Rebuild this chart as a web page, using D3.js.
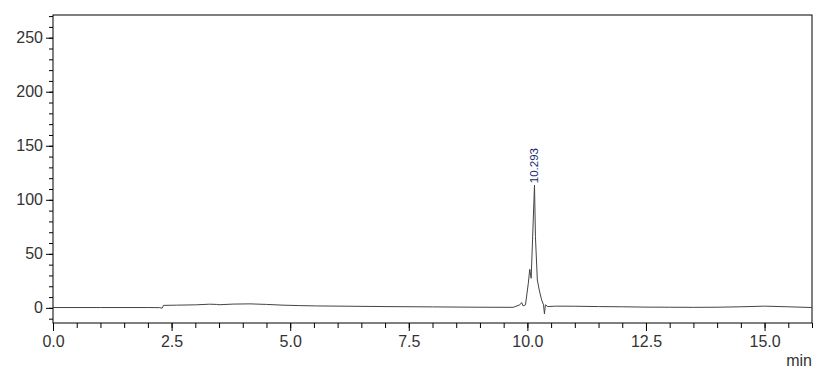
<!DOCTYPE html>
<html>
<head>
<meta charset="utf-8">
<script src="https://cdn.jsdelivr.net/npm/d3@7"></script>
<style>
	body { margin: 0; background: #fff; }
	.tick text { font-family: "Liberation Sans", Arial, sans-serif; fill: #333; }
</style>
</head>
<body>
<div id="chart"></div>
<script>
// Chromatogram trace (time in min, signal in mAU)
var times = [0.0, 1.0, 2.0, 2.25, 2.30, 2.33, 2.6, 3.0, 3.3, 3.45, 3.5, 3.8, 4.15, 4.5, 4.85, 5.2, 5.56, 6.26,
	7.0, 8.0, 9.0, 9.7, 9.84, 9.88, 9.91, 9.96, 10.02, 10.05, 10.08, 10.15, 10.17, 10.21, 10.25, 10.30,
	10.34, 10.36, 10.38, 10.43, 10.6, 11.0, 11.5, 12.0, 12.5, 13.0, 13.5, 14.0, 14.5, 15.0, 15.5, 16.0];
var signal = [0.3, 0.3, 0.3, 0.2, -0.3, 2.3, 2.5, 2.8, 3.4, 3.2, 2.9, 3.5, 3.7, 3.2, 2.5, 2.1, 1.8, 1.5,
	1.2, 0.9, 0.6, 0.5, 2.8, 4.9, 1.8, 2.8, 22.8, 35.7, 27.4, 113.5, 65.8, 25.8, 16.6, 7.4,
	2.8, -5.5, 2.8, 1.2, 1.6, 1.5, 1.2, 1.0, 0.7, 0.6, 0.5, 0.6, 1.0, 1.6, 1.0, 0.3];

var peak = { time: 10.15, value: 113.5, label: '10.293' };

var x_ticks = [0, 2.5, 5, 7.5, 10, 12.5, 15];
var y_ticks = [0, 50, 100, 150, 200, 250];

var total_width = 818;
var total_height = 381;
var plot = { left: 53, right: 812, top: 15, bottom: 323 };

var svg = d3.select('#chart')
	.append('svg')
	.attr('width', total_width)
	.attr('height', total_height);

var x_scale = d3.scaleLinear().domain([0, 16]).range([plot.left, plot.right]);
var y_scale = d3.scaleLinear().domain([-14, 271]).range([plot.bottom, plot.top]);

// Minor ticks first, major axis on top
svg.append('g')
	.attr('transform', 'translate(0,' + plot.bottom + ')')
	.call(d3.axisBottom(x_scale).tickValues(d3.range(0, 16.01, 0.5)).tickSize(5).tickFormat(''))
	.call(function(g) { g.select('.domain').remove(); });

svg.append('g')
	.attr('transform', 'translate(' + plot.left + ',0)')
	.call(d3.axisLeft(y_scale).tickValues(d3.range(-10, 271, 10)).tickSize(4).tickFormat(''))
	.call(function(g) { g.select('.domain').remove(); });

svg.append('g')
	.attr('transform', 'translate(0,' + plot.bottom + ')')
	.call(d3.axisBottom(x_scale).tickValues(x_ticks).tickSize(8).tickPadding(5).tickFormat(d3.format('.1f')))
	.call(function(g) {
		g.select('.domain').remove();
		g.selectAll('text').attr('font-size', '16px');
	});

svg.append('g')
	.attr('transform', 'translate(' + plot.left + ',0)')
	.call(d3.axisLeft(y_scale).tickValues(y_ticks).tickSize(7).tickPadding(3))
	.call(function(g) {
		g.select('.domain').remove();
		g.selectAll('text').attr('font-size', '16px');
	});

// Frame
svg.append('rect')
	.attr('x', plot.left)
	.attr('y', plot.top)
	.attr('width', plot.right - plot.left)
	.attr('height', plot.bottom - plot.top)
	.attr('fill', 'none')
	.attr('stroke', '#000')
	.attr('stroke-width', 1);

// Trace
var line = d3.line()
	.x(function(d, i) { return x_scale(times[i]); })
	.y(function(d) { return y_scale(d); });

svg.append('path')
	.datum(signal)
	.attr('d', line)
	.attr('fill', 'none')
	.attr('stroke', '#444')
	.attr('stroke-width', 1);

// Peak label
svg.append('text')
	.text(peak.label)
	.attr('transform', 'translate(' + (x_scale(peak.time) + 4) + ',' + (y_scale(peak.value) - 2) + ') rotate(-90)')
	.attr('font-family', '"Liberation Sans", Arial, sans-serif')
	.attr('font-size', '11.5px')
	.attr('fill', '#1a2a70');

// Unit label
svg.append('text')
	.text('min')
	.attr('x', plot.right)
	.attr('y', 366)
	.attr('text-anchor', 'end')
	.attr('font-family', '"Liberation Sans", Arial, sans-serif')
	.attr('font-size', '16px')
	.attr('fill', '#333');
</script>
</body>
</html>
